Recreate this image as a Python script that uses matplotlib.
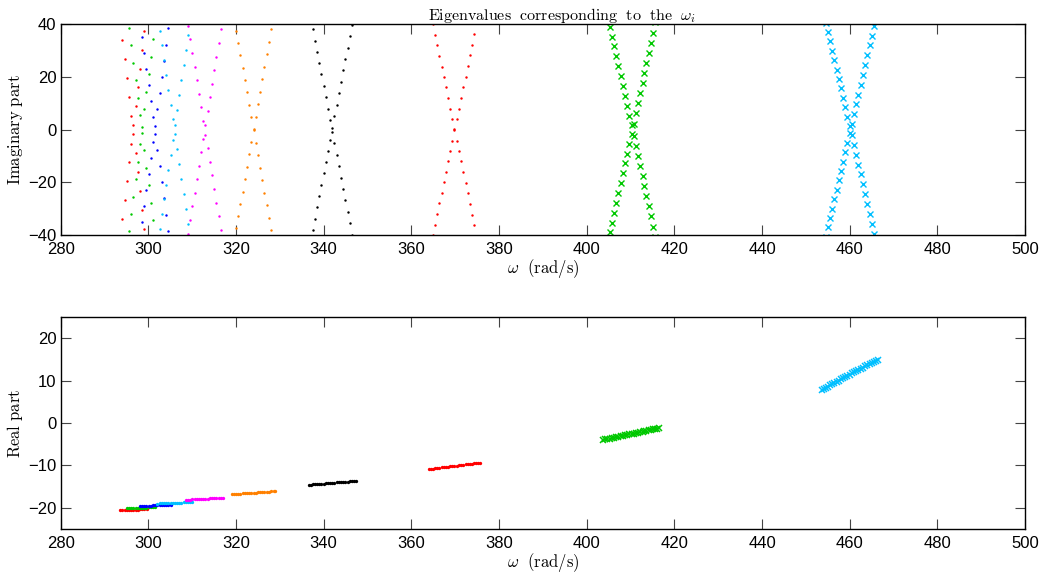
import numpy as np
import matplotlib
matplotlib.use("Agg")
import matplotlib.pyplot as plt

plt.rcParams["font.family"] = ["Liberation Sans", "DejaVu Sans"]
plt.rcParams["mathtext.fontset"] = "cm"

# one entry per point with Im > 0 (conjugate partner has the same omega and real part)
w_red1 = [293.55, 294.08, 294.61, 295.14, 295.60, 296.13, 296.59, 297.12, 297.57, 298.11, 298.56, 299.10, 299.64]
im_red1 = [41.0, 33.84, 26.65, 19.45, 12.38, 5.31, 1.78, 8.97, 16.17, 23.11, 30.30, 37.50, 44.7]
re_red1 = [-20.55, -20.53, -20.52, -20.50, -20.48, -20.47, -20.45, -20.43, -20.42, -20.40, -20.39, -20.37, -20.35]

w_green1 = [295.15, 295.60, 296.05, 296.59, 297.12, 297.57, 298.11, 298.64, 299.10, 299.55, 300.08, 300.54, 301.07, 301.60]
im_green1 = [45.07, 38.51, 31.95, 25.38, 18.69, 12.13, 5.57, 1.15, 7.84, 14.40, 21.09, 27.65, 34.34, 41.03]
re_green1 = [-20.10, -20.08, -20.07, -20.04, -20.02, -20.01, -19.99, -19.96, -19.95, -19.93, -19.91, -19.89, -19.87, -19.85]

w_blue = [298.02, 298.56, 299.10, 299.55, 300.08, 300.62, 301.07, 301.60, 302.06, 302.59, 303.05, 303.58, 304.04, 304.57, 305.10]
im_blue = [41.16, 35.10, 29.04, 22.86, 16.80, 10.74, 4.68, 1.53, 7.71, 13.77, 19.95, 26.01, 32.20, 38.38, 44.56]
re_blue = [-19.55, -19.53, -19.51, -19.50, -19.48, -19.46, -19.45, -19.43, -19.41, -19.39, -19.37, -19.35, -19.34, -19.32, -19.30]

w_cyan1 = [302.06, 302.59, 303.12, 303.58, 304.04, 304.57, 305.10, 305.56, 306.09, 306.54, 307.08, 307.53, 308.06, 308.60, 309.05, 309.50, 309.95]
im_cyan1 = [42.93, 37.50, 32.07, 26.27, 20.84, 15.16, 9.48, 3.93, 1.78, 7.46, 13.14, 18.82, 24.37, 30.05, 35.73, 41.41, 47.10]
re_cyan1 = [-19.00, -18.98, -18.95, -18.93, -18.91, -18.89, -18.87, -18.85, -18.82, -18.80, -18.78, -18.76, -18.74, -18.71, -18.69, -18.67, -18.65]

w_mag = [308.51, 309.05, 309.59, 310.04, 310.58, 311.03, 311.56, 312.02, 312.55, 313.01, 313.54, 313.99, 314.53, 315.06, 315.51, 316.05, 316.58, 317.11]
im_mag = [44.56, 39.39, 34.22, 29.04, 23.87, 18.69, 13.64, 8.47, 3.42, 1.90, 7.08, 12.26, 17.30, 22.48, 27.65, 32.83, 38.00, 43.17]
re_mag = [-18.10, -18.07, -18.04, -18.01, -17.98, -17.95, -17.92, -17.90, -17.87, -17.84, -17.81, -17.78, -17.75, -17.72, -17.69, -17.66, -17.63, -17.60]

w_orange = [319.15, 319.61, 320.07, 320.53, 320.99, 321.52, 322.05, 322.51, 322.96, 323.50, 324.03,
            324.48, 325.02, 325.47, 326.00, 326.46, 327.00, 327.53, 328.06, 328.59, 329.00]
im_orange = [46.45, 41.91, 37.37, 32.83, 28.16, 23.49, 18.69, 14.15, 9.35, 4.68, 0.14,
             4.93, 9.73, 14.40, 19.20, 23.87, 28.66, 33.33, 38.00, 42.67, 47.20]
re_orange = [-16.80, -16.76, -16.73, -16.70, -16.66, -16.62, -16.58, -16.54, -16.51, -16.47, -16.43,
             -16.39, -16.35, -16.32, -16.28, -16.24, -16.20, -16.16, -16.12, -16.08, -16.05]

w_black = [336.56, 337.02, 337.48, 337.94, 338.47, 339.00, 339.46, 339.99, 340.45, 340.98, 341.51, 341.90,
           342.42, 342.96, 343.49, 343.95, 344.48, 344.93, 345.47, 345.92, 346.38, 346.84, 347.30]
im_black = [46.6, 42.3, 38.0, 33.7, 29.4, 25.1, 21.0, 16.5, 12.3, 8.0, 3.8, 0.8,
            5.2, 9.5, 13.8, 18.2, 22.5, 26.8, 31.1, 35.5, 39.8, 44.1, 48.4]
re_black = [-14.55, -14.51, -14.47, -14.43, -14.39, -14.35, -14.31, -14.26, -14.22, -14.18, -14.14, -14.10,
            -14.06, -14.01, -13.97, -13.93, -13.89, -13.85, -13.80, -13.77, -13.73, -13.69, -13.65]

w_red2 = [363.93, 364.39, 364.85, 365.31, 365.84, 366.37, 366.90, 367.36, 367.81, 368.35, 368.88, 369.33, 369.79,
          370.32, 370.85, 371.31, 371.84, 372.37, 372.83, 373.36, 373.89, 374.35, 374.81, 375.27, 375.73]
im_red2 = [47.7, 43.8, 39.9, 35.98, 31.95, 27.91, 23.87, 19.95, 16.04, 12.00, 7.96, 4.18, 0.14,
           4.18, 7.96, 12.00, 16.04, 20.08, 24.12, 28.16, 32.20, 36.24, 40.3, 44.3, 48.3]
re_red2 = [-10.85, -10.79, -10.73, -10.67, -10.60, -10.53, -10.46, -10.40, -10.34, -10.27, -10.20, -10.14, -10.08,
           -10.01, -9.94, -9.88, -9.81, -9.74, -9.68, -9.61, -9.54, -9.48, -9.42, -9.36, -9.30]

w_green2 = [403.83, 404.29, 404.75, 405.21, 405.67, 406.20, 406.73, 407.19, 407.72, 408.25, 408.71, 409.24, 409.70, 410.23,
            410.69, 411.22, 411.67, 412.13, 412.74, 413.19, 413.65, 414.18, 414.71, 415.17, 415.63, 416.09, 416.55]
im_green2 = [49.9, 46.2, 42.55, 38.89, 35.23, 31.57, 27.78, 24.00, 20.33, 16.55, 12.76, 9.10, 5.31, 1.65,
             2.28, 6.20, 9.98, 13.90, 17.68, 21.47, 25.26, 29.04, 32.83, 36.74, 40.65, 44.56, 48.47]
re_green2 = [-3.95, -3.85, -3.75, -3.65, -3.55, -3.44, -3.32, -3.22, -3.11, -2.99, -2.89, -2.78, -2.68, -2.57,
             -2.47, -2.35, -2.26, -2.16, -2.03, -1.93, -1.83, -1.71, -1.60, -1.50, -1.40, -1.30, -1.20]

w_cyan2 = [453.70, 454.16, 454.62, 455.08, 455.54, 456.07, 456.53, 457.06, 457.52, 458.05, 458.50, 459.03, 459.49, 460.02,
           460.56, 461.01, 461.55, 462.00, 462.53, 462.99, 463.52, 464.05, 464.58, 465.04, 465.49, 465.94, 466.39]
im_cyan2 = [47.58, 44.05, 40.52, 36.99, 33.46, 29.92, 26.27, 22.73, 19.20, 15.66, 12.13, 8.60, 4.93, 1.40,
            2.16, 5.94, 9.61, 13.26, 16.93, 20.59, 24.37, 28.16, 31.95, 35.60, 39.39, 43.18, 46.97]
re_cyan2 = [7.85, 8.12, 8.39, 8.65, 8.92, 9.22, 9.49, 9.79, 10.05, 10.35, 10.62, 10.92, 11.18, 11.48,
            11.78, 12.03, 12.33, 12.58, 12.87, 13.12, 13.41, 13.70, 13.98, 14.23, 14.47, 14.71, 14.95]

modes = [
    (w_red1, im_red1, re_red1, "#ff0000", "."),
    (w_green1, im_green1, re_green1, "#00c800", "."),
    (w_blue, im_blue, re_blue, "#0000ff", "."),
    (w_cyan1, im_cyan1, re_cyan1, "#00bfff", "."),
    (w_mag, im_mag, re_mag, "#ff00ff", "."),
    (w_orange, im_orange, re_orange, "#ff8000", "."),
    (w_black, im_black, re_black, "#000000", "."),
    (w_red2, im_red2, re_red2, "#ff0000", "."),
    (w_green2, im_green2, re_green2, "#00c800", "x"),
    (w_cyan2, im_cyan2, re_cyan2, "#00bfff", "x"),
]

fig = plt.figure(figsize=(10.42, 5.79), dpi=100)
ax1 = fig.add_axes([0.0582, 0.5936, 0.9255, 0.3649])
ax2 = fig.add_axes([0.0582, 0.0864, 0.9255, 0.3656])

for w, im, re, col, mk in modes:
    w = np.array(w)
    im = np.array(im)
    if mk == "x":
        kw_top = dict(marker="x", markersize=4.5, markeredgewidth=1.0)
        kw_bot = dict(marker="x", markersize=5, markeredgewidth=1.1)
    else:
        kw_top = dict(marker=".", markersize=3.5, markeredgewidth=0)
        kw_bot = dict(marker=".", markersize=4.8, markeredgewidth=0)
    ax1.plot(np.r_[w, w], np.r_[im, -im], linestyle="none", color=col, **kw_top)
    ax2.plot(w, re, linestyle="none", color=col, **kw_bot)

for ax in (ax1, ax2):
    ax.set_xlim(280, 500)
    ax.set_xticks(np.arange(280, 501, 20))
    ax.tick_params(direction="in", top=True, right=True, length=7, width=0.8,
                   color="#444444", labelsize=12)
    ax.tick_params(axis="x", pad=5)
    ax.tick_params(axis="y", pad=3)
    for s in ax.spines.values():
        s.set_linewidth(1.0)
    ax.set_xlabel(r"$\omega\ \ \mathrm{(rad/s)}$", fontsize=12, labelpad=0)

ax1.set_ylim(-40, 40)
ax1.set_yticks([-40, -20, 0, 20, 40])
ax1.set_ylabel(r"$\mathrm{Imaginary\ part}$", fontsize=12, labelpad=2)
ax1.set_title(r"$\mathrm{Eigenvalues\ \ corresponding\ \ to\ \ the}\ \ \omega_i$",
              fontsize=11.5, pad=3, x=0.52)

ax2.set_ylim(-25, 25)
ax2.set_yticks([-20, -10, 0, 10, 20])
ax2.set_ylabel(r"$\mathrm{Real\ part}$", fontsize=12, labelpad=2)

fig.savefig("out.png", dpi=100)
